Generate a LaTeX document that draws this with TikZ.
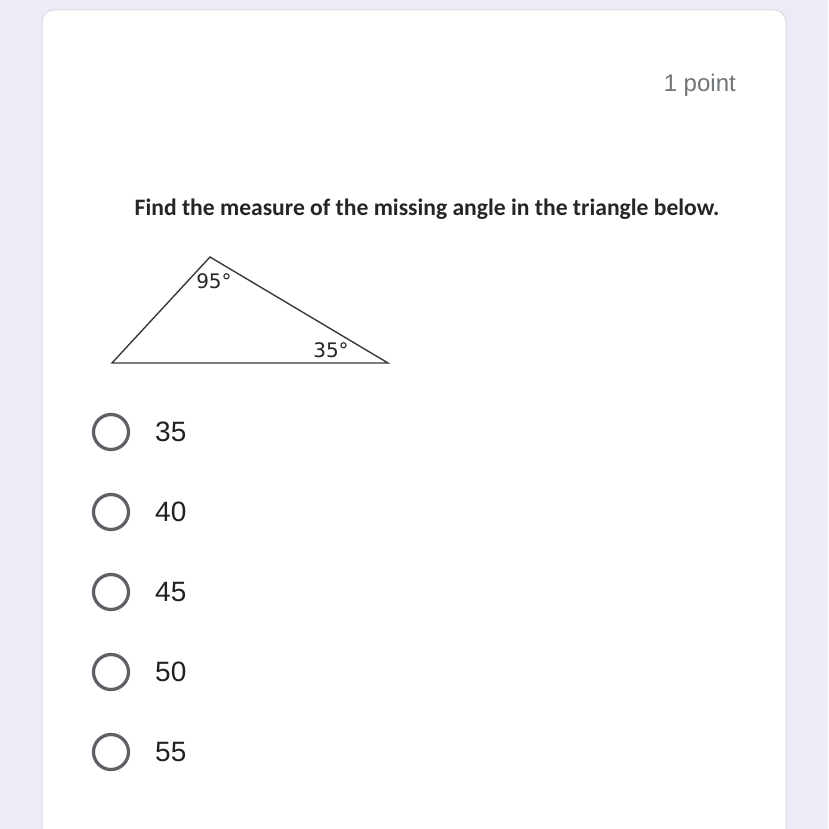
\documentclass[tikz,border=0pt]{standalone}
\usepackage{fontspec}
\setmainfont{Liberation Sans}
\newfontfamily\qfont{Carlito}
\newfontfamily\lblfont{DejaVu Sans}
\definecolor{bgcol}{HTML}{EDEBF6}
\definecolor{cardedge}{HTML}{DADCE0}
\definecolor{greytext}{HTML}{70757A}
\definecolor{radiocol}{HTML}{5F6368}
\definecolor{opttext}{HTML}{202124}
\definecolor{trilinecol}{HTML}{3A3A3A}
\tikzset{
  radio/.style={circle, draw=radiocol, line width=3.3pt, minimum size=35pt, inner sep=0pt},
  opt/.style={anchor=west, text=opttext, font=\fontsize{28}{30}\selectfont, inner sep=0pt},
  anglab/.style={text=black!85, font=\lblfont\fontsize{20}{22}\selectfont, inner sep=0pt},
}
\begin{document}
\begin{tikzpicture}[x=1pt,y=-1pt]
\fill[bgcol] (0,0) rectangle (828,829);
\useasboundingbox (0,0) rectangle (828,829);
\fill[white, draw=cardedge, line width=1pt, rounded corners=12pt] (42,10) -- (786,10) -- (786,860) -- (42,860) -- cycle;
\node[anchor=east, text=greytext, font=\fontsize{24}{26}\selectfont, inner sep=0pt] (pts) at (736,85) {1 point};
\node[font=\qfont\bfseries\fontsize{23.6}{27}\selectfont, text=black!85, inner sep=0pt] (q) at (427,209) {Find the measure of the missing angle in the triangle below.};
\coordinate (A) at (112,363);
\coordinate (B) at (210,257);
\coordinate (C) at (388,363);
\draw[trilinecol, line width=1.4pt, line join=miter] (A) -- (B) -- (C) -- cycle;
\node[anglab] (a95) at (214,281) {95°};
\node[anglab] (a35) at (331,350) {35°};
\foreach \y/\v [count=\i] in {432/35, 512/40, 592/45, 672/50, 752/55} {
  \node[radio] (r\i) at (111,\y) {};
  \node[opt] (o\i) at (155,\y) {\v};
}
\end{tikzpicture}
\end{document}
